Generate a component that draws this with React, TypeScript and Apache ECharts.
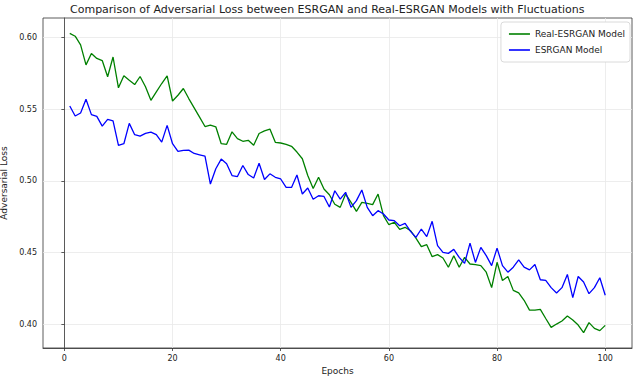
import React, { useEffect, useRef } from "react";
import * as echarts from "echarts";

const epochs: number[] = Array.from({ length: 100 }, (_, i) => i + 1);

const realEsrganLoss: number[] = [
  0.603, 0.601, 0.595, 0.581, 0.589, 0.5855, 0.584, 0.5727, 0.5865, 0.565,
  0.5734, 0.5703, 0.5673, 0.5729, 0.5657, 0.5563, 0.5622, 0.568, 0.5734, 0.5558,
  0.5598, 0.5645, 0.5575, 0.551, 0.5445, 0.538, 0.539, 0.5378, 0.526, 0.5256,
  0.5343, 0.5296, 0.5277, 0.5284, 0.5249, 0.5331, 0.535, 0.5362, 0.527, 0.5265,
  0.5256, 0.5242, 0.5202, 0.5155, 0.5038, 0.4948, 0.5026, 0.4944, 0.4904, 0.4838,
  0.4816, 0.4909, 0.4851, 0.4788, 0.4851, 0.4844, 0.4835, 0.4909, 0.4758, 0.4695,
  0.4712, 0.4663, 0.4677, 0.4653, 0.4602, 0.4542, 0.4556, 0.4472, 0.4486, 0.4463,
  0.4398, 0.4479, 0.4398, 0.4467, 0.4421, 0.4416, 0.441, 0.4364, 0.4256, 0.4433,
  0.4306, 0.4334, 0.4237, 0.4219, 0.4168, 0.4099, 0.4099, 0.4104, 0.4041, 0.3979,
  0.4002, 0.4023, 0.4058, 0.403, 0.3995, 0.3942, 0.4012, 0.3972, 0.3956, 0.3993,
];

const esrganLoss: number[] = [
  0.5523, 0.5453, 0.5474, 0.557, 0.5463, 0.5451, 0.5383, 0.543, 0.542, 0.5248,
  0.526, 0.5402, 0.5323, 0.5313, 0.5332, 0.5341, 0.5323, 0.5271, 0.5388, 0.526,
  0.5206, 0.5213, 0.5215, 0.5192, 0.5183, 0.5174, 0.4979, 0.5085, 0.5153, 0.512,
  0.5038, 0.5031, 0.5108, 0.5045, 0.5021, 0.5124, 0.501, 0.505, 0.5026, 0.5014,
  0.4955, 0.4955, 0.5042, 0.4909, 0.4951, 0.4873, 0.4897, 0.4892, 0.4819, 0.4932,
  0.4874, 0.4921, 0.4816, 0.4863, 0.4937, 0.4816, 0.4758, 0.4793, 0.477, 0.4728,
  0.4723, 0.4688, 0.4705, 0.4649, 0.4607, 0.4665, 0.4612, 0.4719, 0.4549, 0.4502,
  0.4495, 0.4523, 0.4467, 0.4425, 0.4567, 0.4432, 0.4537, 0.4479, 0.441, 0.4532,
  0.441, 0.4364, 0.4399, 0.4449, 0.4399, 0.438, 0.4417, 0.4311, 0.4306, 0.4256,
  0.4219, 0.4256, 0.4348, 0.4187, 0.4334, 0.4295, 0.4214, 0.4256, 0.4325, 0.4203,
];

const xTicks: number[] = [0, 20, 40, 60, 80, 100];
const yTicks: number[] = [0.4, 0.45, 0.5, 0.55, 0.6];

const FONT = "DejaVu Sans";

export default function App() {
  const ref = useRef<HTMLDivElement>(null);

  useEffect(() => {
    document.body.style.margin = "0";
    if (!ref.current) return;
    const chart = echarts.init(ref.current, null, { renderer: "svg" });
    const axisCommon = {
      axisLine: { show: true, lineStyle: { color: "#333", width: 0.8 } },
      axisTick: { show: true, length: 3, lineStyle: { color: "#333", width: 0.8 } },
      splitLine: { show: true, lineStyle: { color: "#e8e8e8", width: 0.8 } },
      nameTextStyle: { fontFamily: FONT, fontSize: 9, color: "#222" },
    };
    chart.setOption({
      animation: false,
      backgroundColor: "#ffffff",
      title: {
        text: "Comparison of Adversarial Loss between ESRGAN and Real-ESRGAN Models with Fluctuations",
        left: 70,
        top: 4,
        padding: 0,
        textStyle: { fontFamily: FONT, fontSize: 11, fontWeight: "normal", color: "#222" },
      },
      legend: {
        orient: "vertical",
        right: 10,
        top: 22,
        align: "left",
        icon: "rect",
        itemWidth: 21,
        itemHeight: 1.6,
        itemGap: 6,
        padding: [7, 5, 7, 8],
        backgroundColor: "#fff",
        borderColor: "#d0d0d0",
        borderWidth: 0.8,
        borderRadius: 3,
        textStyle: { fontFamily: FONT, fontSize: 9, color: "#222", lineHeight: 10 },
        data: ["Real-ESRGAN Model", "ESRGAN Model"],
      },
      grid: {
        left: 43,
        right: 8,
        top: 18,
        bottom: 31,
        outerBoundsMode: "none",
        containLabel: false,
        show: true,
        borderColor: "#333",
        borderWidth: 0.8,
        backgroundColor: "transparent",
      },
      xAxis: {
        type: "value",
        min: -3.95,
        max: 104.95,
        name: "Epochs",
        nameLocation: "middle",
        nameGap: 18,
        ...axisCommon,
        axisTick: { ...axisCommon.axisTick, customValues: xTicks },
        axisLabel: {
          customValues: xTicks,
          fontFamily: FONT,
          fontSize: 8,
          color: "#222",
          margin: 6,
        },
      },
      yAxis: {
        type: "value",
        min: 0.3835,
        max: 0.6137,
        name: "Adversarial Loss",
        nameLocation: "middle",
        nameGap: 26,
        ...axisCommon,
        axisTick: { ...axisCommon.axisTick, customValues: yTicks },
        axisLabel: {
          customValues: yTicks,
          fontFamily: FONT,
          fontSize: 8,
          color: "#222",
          margin: 6,
          formatter: (v: number) => v.toFixed(2),
        },
      },
      series: [
        {
          name: "Real-ESRGAN Model",
          type: "line",
          data: epochs.map((e, i) => [e, realEsrganLoss[i]]),
          symbol: "none",
          lineStyle: { color: "#008000", width: 1.3 },
          itemStyle: { color: "#008000" },
        },
        {
          name: "ESRGAN Model",
          type: "line",
          data: epochs.map((e, i) => [e, esrganLoss[i]]),
          symbol: "none",
          lineStyle: { color: "#0000ff", width: 1.3 },
          itemStyle: { color: "#0000ff" },
        },
      ],
    });
    return () => chart.dispose();
  }, []);

  return (
    <div
      ref={ref}
      style={{ width: 640, height: 379, position: "absolute", left: 0, top: 0 }}
    />
  );
}
